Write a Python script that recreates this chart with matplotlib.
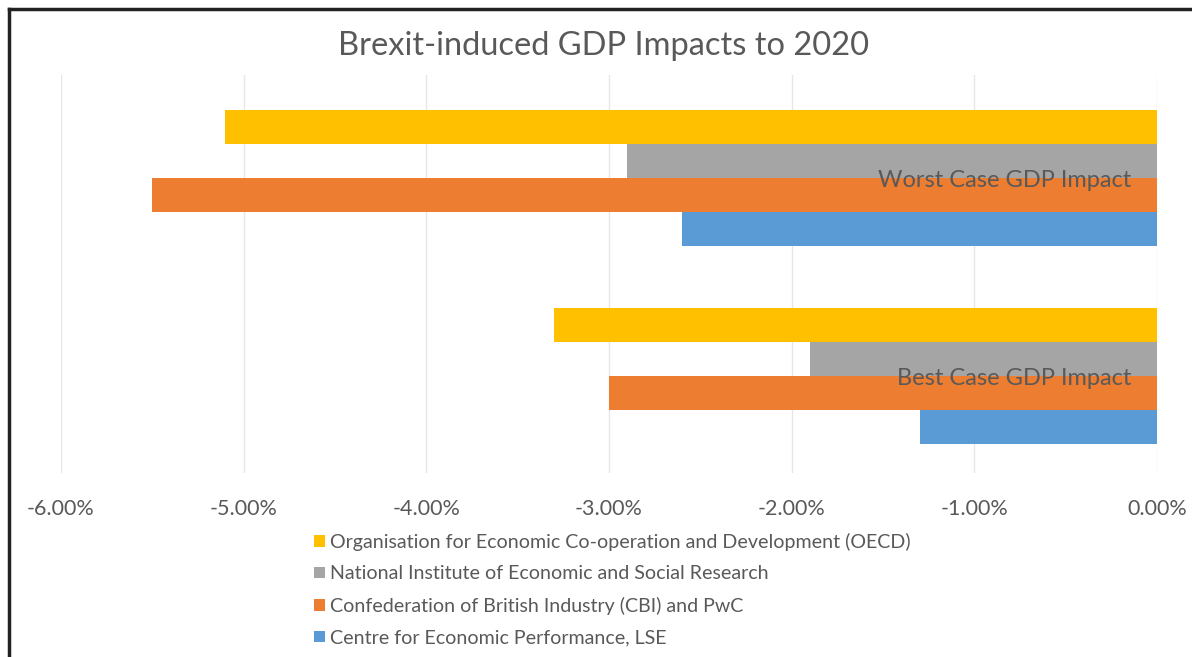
import numpy as np
import matplotlib.pyplot as plt
from matplotlib.patches import Patch
from matplotlib.lines import Line2D
from matplotlib.ticker import FuncFormatter

plt.rcParams['font.family'] = ['Lato', 'DejaVu Sans']

cases = ["Worst Case GDP Impact", "Best Case GDP Impact"]
sources = [
    "Organisation for Economic Co-operation and Development (OECD)",
    "National Institute of Economic and Social Research",
    "Confederation of British Industry (CBI) and PwC",
    "Centre for Economic Performance, LSE",
]
# GDP impact in percent, per source: [worst, best]
oecd = [-5.1, -3.3]
niesr = [-2.9, -1.9]
cbi = [-5.5, -3.0]
cep = [-2.6, -1.3]
values = [oecd, niesr, cbi, cep]
colors = ["#FFC000", "#A5A5A5", "#ED7D31", "#5B9BD5"]

txt = "#595959"

fig = plt.figure(figsize=(11.92, 6.57), dpi=100)
ax = fig.add_axes([61 / 1192, 1 - 473 / 657, (1157 - 61) / 1192, (473 - 75) / 657])

y = np.arange(len(cases))
h = 0.172
for i, (vals, c) in enumerate(zip(values, colors)):
    ax.barh(y + (i - 1.5) * h, vals, height=h, color=c, zorder=3)

ax.set_xlim(-6, 0)
ax.set_ylim(1.49, -0.52)
ax.set_xticks(np.arange(-6, 0.5, 1))
ax.xaxis.set_major_formatter(FuncFormatter(lambda v, p: f"{v:.2f}%"))
ax.tick_params(axis='x', length=0, colors=txt, labelsize=15.5, pad=19)
ax.set_yticks([])
ax.grid(axis='x', color="#e6e6e6", lw=1, zorder=0)
for s in ax.spines.values():
    s.set_visible(False)

for yi, lab in zip(y, cases):
    ax.text(-0.14, yi + 0.015, lab, ha='right', va='center', color=txt, fontsize=17, zorder=5)

fig.text(0.506, 1 - 46 / 657, "Brexit-induced GDP Impacts to 2020", ha='center', va='center',
         color=txt, fontsize=23.5)

handles = [Patch(facecolor=c, edgecolor='none') for c in colors]
fig.legend(handles, sources, loc='upper left', bbox_to_anchor=(306 / 1192, 1 - 525 / 657),
           frameon=False, fontsize=14.1, labelcolor=txt, handlelength=0.55, handleheight=0.55,
           handletextpad=0.3, labelspacing=0.74, borderaxespad=0)

# screenshot frame
fig.add_artist(Line2D([9 / 1192, 9 / 1192], [0, 1 - 9 / 657], color='#222222', lw=2.5))
fig.add_artist(Line2D([9 / 1192, 1], [1 - 9 / 657, 1 - 9 / 657], color='#222222', lw=2.5))

fig.savefig("out.png", dpi=100)
